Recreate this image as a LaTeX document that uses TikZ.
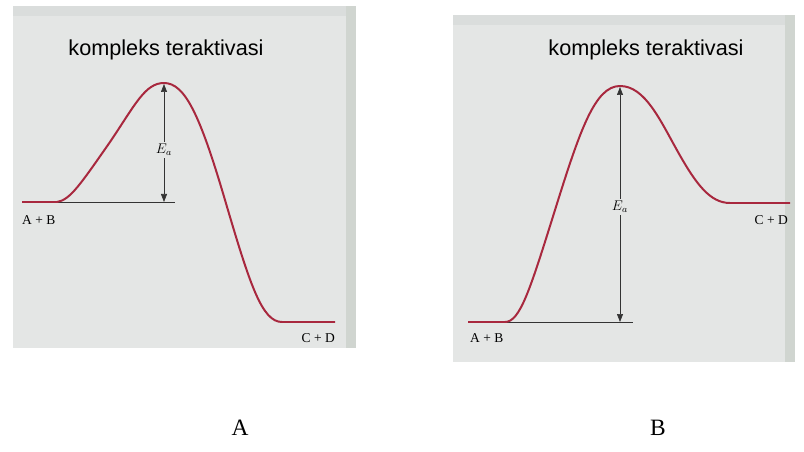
\documentclass[tikz,border=0pt]{standalone}
\usepackage{fontspec}
\setmainfont{Liberation Serif}
\newfontfamily\titlefont{Liberation Sans}
\usetikzlibrary{arrows.meta,positioning}
\definecolor{panelgray}{HTML}{E4E6E5}
\definecolor{shadegray}{HTML}{D0D5D0}
\definecolor{bandgray}{HTML}{DADDDC}
\definecolor{curvered}{HTML}{A8283E}

\begin{document}
\begin{tikzpicture}[
  x=0.03cm,y=-0.03cm,
  panel/.style={fill=panelgray,draw=none},
  shade/.style={fill=shadegray,draw=none},
  band/.style={fill=bandgray,draw=none},
  curve/.style={draw=curvered,line width=1.7pt,line join=round},
  baseline/.style={draw=black!80,line width=0.7pt},
  energy/.style={{Triangle[length=2.4mm,width=1.8mm]}-{Triangle[length=2.4mm,width=1.8mm]},draw=black!80,line width=0.6pt},
  title/.style={font=\titlefont\fontsize{18.5}{20}\selectfont,inner sep=0pt},
  species/.style={font=\fontsize{11.5}{13}\selectfont,inner sep=0pt},
  ealabel/.style={font=\fontsize{12}{14}\selectfont,fill=panelgray,inner sep=1.5pt},
  caption/.style={font=\fontsize{20}{24}\selectfont,inner sep=0pt}
]
\useasboundingbox (0,0) rectangle (804,452);

% panel A: exothermic
\fill[panel] (13,6) rectangle (356,348);
\fill[band] (13,6) rectangle (356,16);
\fill[shade] (346,6) rectangle (356,348);
\node[title,anchor=base] (titleA) at (166,56) {kompleks teraktivasi};
\coordinate (peakA) at (164,84);
\coordinate (baseA) at (164,202);
\draw[baseline] (57,202) -- (175,202);
\draw[curve] (22,202) -- (57,202)
  .. controls (70,200) and (80,185) .. (110,142)
  .. controls (135,105) and (145,83) .. (164,83)
  .. controls (185,83) and (200,115) .. (225,200)
  .. controls (250,285) and (262,322) .. (282,322) -- (335,322);
\draw[energy] (peakA) -- (baseA);
\node[ealabel] (eaA) at (164,150) {$E_a$};
\node[species,anchor=base west] (reactA) at (22,225) {A + B};
\node[species,anchor=base east] (prodA) at (335,342) {C + D};
\node[caption] (capA) at (240,428) {A};

% panel B: endothermic
\fill[panel] (453,15) rectangle (795,362);
\fill[band] (453,15) rectangle (795,25);
\fill[shade] (785,15) rectangle (795,362);
\node[title,anchor=base] (titleB) at (646,56) {kompleks teraktivasi};
\coordinate (peakB) at (620,87);
\coordinate (baseB) at (620,322);
\draw[baseline] (505,322) -- (633,322);
\draw[curve] (468,322) -- (505,322)
  .. controls (520,322) and (530,290) .. (555,210)
  .. controls (580,130) and (595,86) .. (620,86)
  .. controls (645,86) and (660,120) .. (678,152)
  .. controls (696,184) and (710,203) .. (730,203) -- (790,203);
\draw[energy] (peakB) -- (baseB);
\node[ealabel] (eaB) at (620,207) {$E_a$};
\node[species,anchor=base east] (prodB) at (788,225) {C + D};
\node[species,anchor=base west] (reactB) at (470,342) {A + B};
\node[caption] (capB) at (658,428) {B};
\end{tikzpicture}
\end{document}
